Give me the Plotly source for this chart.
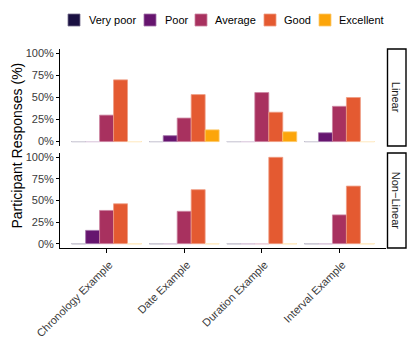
import plotly.graph_objs as go
from plotly.subplots import make_subplots

# Data (shares of participants)
categories = ['Chronology Example', 'Date Example', 'Duration Example', 'Interval Example']
ratings = ['Very poor', 'Poor', 'Average', 'Good', 'Excellent']
panels = ['Linear', 'Non\u2212Linear']

very_poor_linear = [0, 0, 0, 0]
poor_linear = [0, 0.067, 0, 0.10]
average_linear = [0.30, 0.267, 0.556, 0.40]
good_linear = [0.70, 0.533, 0.333, 0.50]
excellent_linear = [0, 0.133, 0.111, 0]

very_poor_nonlinear = [0, 0, 0, 0]
poor_nonlinear = [0.154, 0, 0, 0]
average_nonlinear = [0.385, 0.375, 0, 0.333]
good_nonlinear = [0.462, 0.625, 1.0, 0.667]
excellent_nonlinear = [0, 0, 0, 0]

linear = [very_poor_linear, poor_linear, average_linear, good_linear, excellent_linear]
nonlinear = [very_poor_nonlinear, poor_nonlinear, average_nonlinear, good_nonlinear, excellent_nonlinear]

colors = ['#1a1042', '#66156f', '#a8315f', '#e45a31', '#fca50a']

FONT = 'Liberation Sans, Arial, sans-serif'
# the page body has an 8px margin, so the figure is drawn 8px in from the window edge
OFF = 8
W, H = 415 - OFF, 363 - OFF
L, R, T, B = 60 - OFF, 29, 49 - OFF, 115
PW, PH = W - L - R, H - T - B


# positions below are given in window pixels
def px_x(px):
    return (px - OFF - L) / PW


def px_y(py):
    return (H - B - (py - OFF)) / PH


def tint(hex_color, a):
    h = hex_color.lstrip('#')
    rgb = [int(h[k:k + 2], 16) for k in (0, 2, 4)]
    return 'rgb(%d,%d,%d)' % tuple(round(255 - a * (255 - c)) for c in rgb)


fig = make_subplots(rows=2, cols=1, shared_xaxes=True)

bar_w = 0.9 / len(ratings)
shapes = []
for row, panel_data in enumerate([linear, nonlinear], start=1):
    for j, (name, vals, col) in enumerate(zip(ratings, panel_data, colors)):
        fig.add_trace(go.Bar(x=categories, y=vals, name=name,
                             marker=dict(color=col, line=dict(color=tint(col, 0.6), width=0.8)),
                             showlegend=False),
                      row=row, col=1)
        # zero-height bars still leave a faint outline in the original
        for i, v in enumerate(vals):
            if v == 0:
                x0 = i - 0.45 + bar_w * j
                shapes.append(dict(type='line', xref='x' if row == 1 else 'x2',
                                   yref='y' if row == 1 else 'y2',
                                   x0=x0, x1=x0 + bar_w, y0=0, y1=0,
                                   line=dict(color=tint(col, 0.15), width=1)))

# facet strips
strip_boxes = [(49, 146), (153, 248)]
annotations = []
for label, (top, bot) in zip(panels, strip_boxes):
    shapes.append(dict(type='rect', xref='paper', yref='paper',
                       x0=px_x(387.5), x1=px_x(406), y0=px_y(bot), y1=px_y(top),
                       line=dict(color='black', width=1.4), fillcolor='white'))
    annotations.append(dict(text=label, xref='paper', yref='paper', x=px_x(396.7),
                            y=px_y((top + bot) / 2), xanchor='center', yanchor='middle',
                            showarrow=False, textangle=90,
                            font=dict(family=FONT, size=11, color='#1a1a1a')))

# legend drawn by hand to match the compact ggplot layout
legend_swatch_x = [68, 144, 195, 264, 319]
legend_text_x = [87, 163, 213, 282, 337]
for name, col, sx, tx in zip(ratings, colors, legend_swatch_x, legend_text_x):
    shapes.append(dict(type='rect', xref='paper', yref='paper',
                       x0=px_x(sx), x1=px_x(sx + 12), y0=px_y(26), y1=px_y(14),
                       line=dict(color=tint(col, 0.6), width=0.8), fillcolor=col))
    annotations.append(dict(text=name, xref='paper', yref='paper', x=px_x(tx), y=px_y(20),
                            xanchor='left', yanchor='middle', showarrow=False,
                            font=dict(family=FONT, size=11, color='black')))

annotations.append(dict(text='Participant Responses (%)', xref='paper', yref='paper',
                        x=px_x(16.5), y=px_y(146), xanchor='center', yanchor='middle',
                        showarrow=False, textangle=-90,
                        font=dict(family=FONT, size=14, color='black')))

yaxis_style = dict(range=[-0.05, 1.05], tickvals=[0, 0.25, 0.5, 0.75, 1],
                   ticktext=['0%', '25%', '50%', '75%', '100%'], automargin=False,
                   showline=True, linecolor='black', linewidth=1,
                   ticks='outside', ticklen=3, tickcolor='black', tickwidth=1,
                   showgrid=False, zeroline=False,
                   tickfont=dict(family=FONT, size=11, color='#3a3a3a'))

fig.update_layout(
    template='none',
    width=W, height=H, autosize=False,
    margin=dict(l=L, r=R, t=T, b=B),
    plot_bgcolor='white', paper_bgcolor='white',
    barmode='group', bargap=0.1, bargroupgap=0,
    showlegend=False,
    shapes=shapes, annotations=annotations,
    yaxis=dict(domain=[px_y(146), 1], **yaxis_style),
    yaxis2=dict(domain=[0, px_y(153)], **yaxis_style),
    xaxis=dict(range=[-0.6, 3.6], showline=False, showticklabels=False, ticks='',
               showgrid=False, zeroline=False, automargin=False),
    xaxis2=dict(range=[-0.6, 3.6], showline=True, linecolor='black', linewidth=1,
                ticks='outside', ticklen=4, tickcolor='black', tickangle=-45,
                ticklabelshift=3, ticklabelstandoff=1,
                showgrid=False, zeroline=False, automargin=False,
                tickfont=dict(family=FONT, size=11, color='#3a3a3a')),
)

fig.write_html("out.html")
